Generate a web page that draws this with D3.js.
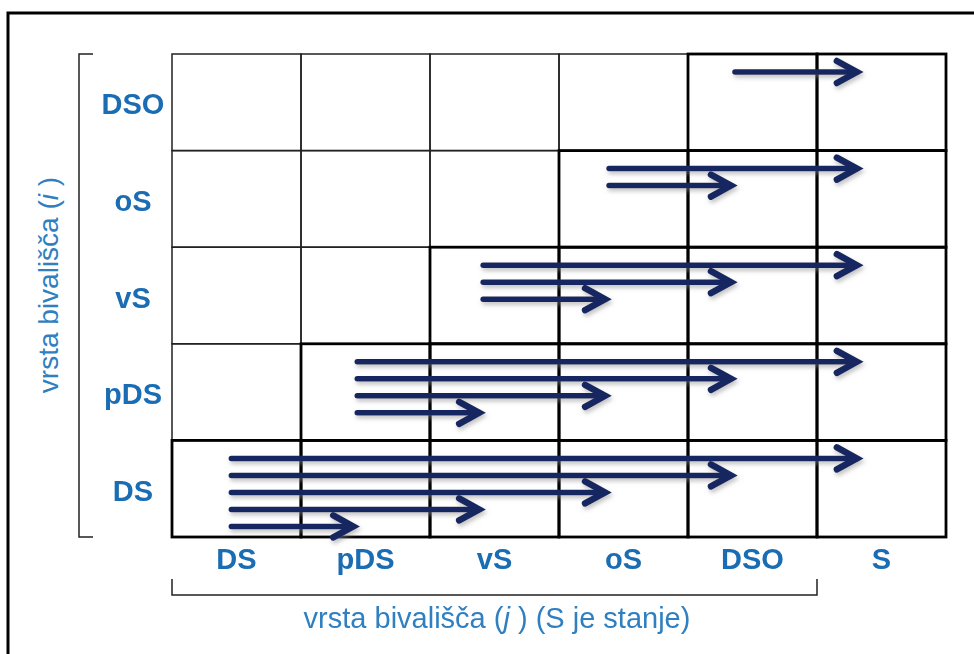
<!DOCTYPE html>
<html>
<head>
<meta charset="utf-8">
<script src="https://cdn.jsdelivr.net/npm/d3@7"></script>
<style>
  body { margin: 0; background: #fff; }
  text { font-family: "Liberation Sans", Arial, sans-serif; }
</style>
</head>
<body>
<svg width="974" height="654"></svg>
<script>
// categories
const columns = ["DS", "pDS", "vS", "oS", "DSO", "S"];
const rows = ["DSO", "oS", "vS", "pDS", "DS"];
// transitions (from row type -> to column type), longest first in each row
const moves = [
  ["DSO", "S"],
  ["oS", "S"], ["oS", "DSO"],
  ["vS", "S"], ["vS", "DSO"], ["vS", "oS"],
  ["pDS", "S"], ["pDS", "DSO"], ["pDS", "oS"], ["pDS", "vS"],
  ["DS", "S"], ["DS", "DSO"], ["DS", "oS"], ["DS", "vS"], ["DS", "pDS"]
];
const xTitle = "vrsta bivališča (";
const yTitle = "vrsta bivališča (";

const svg = d3.select("svg");
const x = d3.scaleBand().domain(columns).range([172, 946]);
const y = d3.scaleBand().domain(rows).range([54, 537]);
const bw = x.bandwidth(), bh = y.bandwidth();
const ax = d3.scaleLinear().domain([0, columns.length - 1])
  .range([x("DS") + bw * 0.46, x("S") + bw * 0.34]);

const labelBlue = "#1b6db3", titleBlue = "#2f7fc1", navy = "#172760";

// shadow for arrows
const defs = svg.append("defs");
const f = defs.append("filter").attr("id", "shadow")
  .attr("x", "-10%").attr("y", "-100%").attr("width", "120%").attr("height", "300%");
f.append("feDropShadow").attr("dx", 1.5).attr("dy", 3).attr("stdDeviation", 2.2)
  .attr("flood-color", "#888").attr("flood-opacity", 0.5);

// outer frame (only left/top visible)
svg.append("rect").attr("x", 8).attr("y", 13).attr("width", 1000).attr("height", 700)
  .attr("fill", "none").attr("stroke", "#000").attr("stroke-width", 3);

// cells
const cells = [];
rows.forEach(r => columns.forEach(c => cells.push({ r, c, thick: columns.indexOf(c) >= columns.indexOf(r) })));

svg.append("g").selectAll("rect")
  .data(cells)
  .join("rect")
  .attr("x", d => x(d.c)).attr("y", d => y(d.r))
  .attr("width", bw).attr("height", bh)
  .attr("fill", "none").attr("stroke", "#222").attr("stroke-width", 1.5);

svg.append("g").selectAll("rect")
  .data(cells.filter(d => d.thick))
  .join("rect")
  .attr("x", d => x(d.c)).attr("y", d => y(d.r))
  .attr("width", bw).attr("height", bh)
  .attr("fill", "none").attr("stroke", "#000").attr("stroke-width", 2.8);

// arrows
const counter = {};
const arrows = moves.map(m => {
  const k = counter[m[0]] || 0;
  counter[m[0]] = k + 1;
  return { from: m[0], to: m[1], k };
});

const ag = svg.append("g").attr("filter", "url(#shadow)");
const arrow = ag.selectAll("g").data(arrows).join("g")
  .attr("transform", d => `translate(0,${y(d.from) + 18 + d.k * 17})`);
arrow.append("line")
  .attr("x1", d => ax(columns.indexOf(d.from)))
  .attr("x2", d => ax(columns.indexOf(d.to)) - 4)
  .attr("y1", 0).attr("y2", 0)
  .attr("stroke", navy).attr("stroke-width", 5.5).attr("stroke-linecap", "round");
arrow.append("path")
  .attr("d", d => {
    const t = ax(columns.indexOf(d.to)) - 4;
    return `M${t - 20},-11 L${t},0 L${t - 20},11`;
  })
  .attr("fill", "none").attr("stroke", navy).attr("stroke-width", 6.5)
  .attr("stroke-linejoin", "miter").attr("stroke-linecap", "round");

// row labels
svg.append("g").selectAll("text").data(rows).join("text")
  .attr("x", 133).attr("y", d => y(d) + bh / 2 + 12)
  .attr("text-anchor", "middle").attr("font-size", 29).attr("font-weight", "bold")
  .attr("fill", labelBlue).text(d => d);

// column labels
svg.append("g").selectAll("text").data(columns).join("text")
  .attr("x", d => x(d) + bw / 2).attr("y", 569)
  .attr("text-anchor", "middle").attr("font-size", 29).attr("font-weight", "bold")
  .attr("fill", labelBlue).text(d => d);

// brackets
svg.append("path")
  .attr("d", `M93,${y.range()[0]} H79 V${y.range()[1]} H93`)
  .attr("fill", "none").attr("stroke", "#222").attr("stroke-width", 1.5);
svg.append("path")
  .attr("d", `M${x("DS")},579 V595 H${x("S")} V579`)
  .attr("fill", "none").attr("stroke", "#222").attr("stroke-width", 1.5);

// axis titles
const xt = svg.append("text").attr("x", 497).attr("y", 628)
  .attr("text-anchor", "middle").attr("font-size", 29).attr("fill", titleBlue);
xt.append("tspan").text(xTitle);
xt.append("tspan").attr("font-style", "italic").text("j");
xt.append("tspan").text(" ) (S je stanje)");

const yt = svg.append("text").attr("transform", "translate(58,285) rotate(-90)")
  .attr("text-anchor", "middle").attr("font-size", 28).attr("fill", titleBlue);
yt.append("tspan").text(yTitle);
yt.append("tspan").attr("font-style", "italic").text("i");
yt.append("tspan").text(" )");
</script>
</body>
</html>
